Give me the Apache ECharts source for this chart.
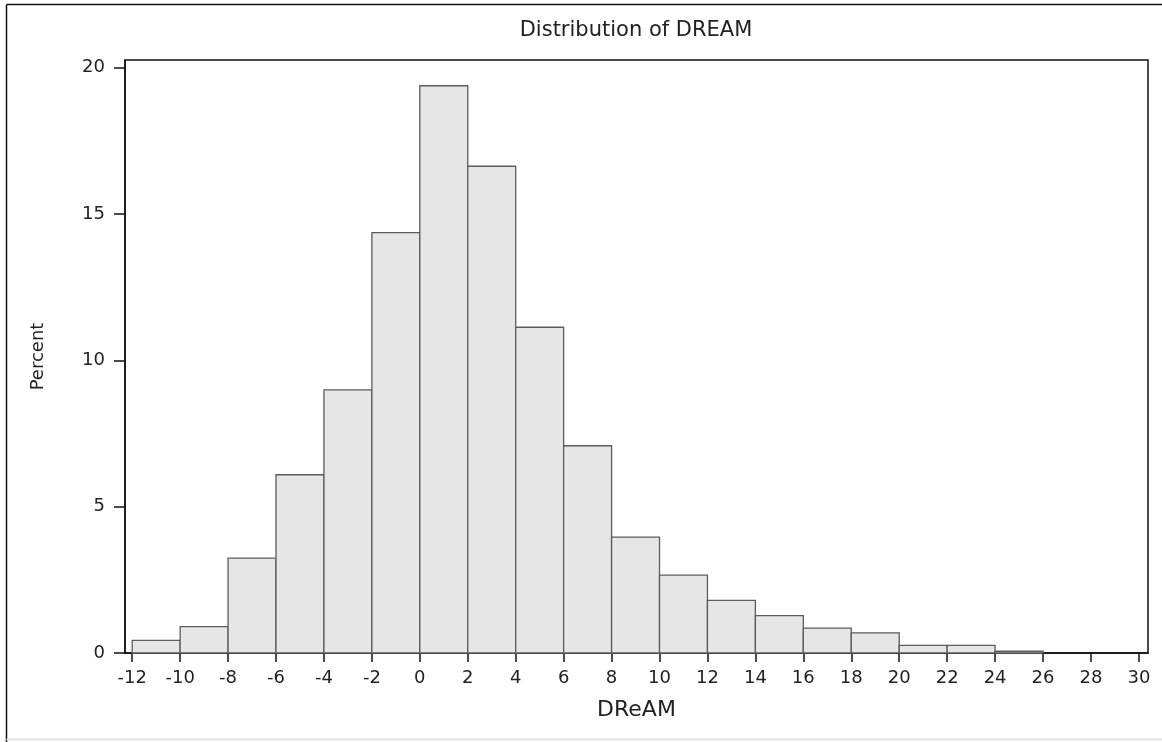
<!DOCTYPE html>
<html>
<head>
<meta charset="utf-8">
<style>
  html, body { margin: 0; padding: 0; background: #ffffff; }
  #chart { width: 1162px; height: 742px; }
</style>
<script src="https://cdn.jsdelivr.net/npm/echarts@6/dist/echarts.min.js"></script>
</head>
<body>
<div id="chart"></div>
<script>
// Histogram bins of DReAM (width 2), lower edges and percent of observations
const binStarts = [-12, -10, -8, -6, -4, -2, 0, 2, 4, 6, 8, 10, 12, 14, 16, 18, 20, 22, 24];
const binWidth = 2;
const percents = [0.43, 0.90, 3.24, 6.09, 8.99, 14.36, 19.38, 16.63, 11.13, 7.08, 3.96, 2.66, 1.80, 1.28, 0.85, 0.69, 0.26, 0.26, 0.06];

// Tick values shown on the axes
const xTicks = [-12, -10, -8, -6, -4, -2, 0, 2, 4, 6, 8, 10, 12, 14, 16, 18, 20, 22, 24, 26, 28, 30];
const yTicks = [0, 5, 10, 15, 20];

const FONT = '"DejaVu Sans", Verdana, sans-serif';
const INK = '#222222';

const chart = echarts.init(document.getElementById('chart'), null, { renderer: 'canvas' });

const data = binStarts.map((s, i) => [s, s + binWidth, percents[i]]);

chart.setOption({
  animation: false,
  backgroundColor: '#ffffff',
  title: {
    text: 'Distribution of DREAM',
    left: 636,
    top: 20,
    textAlign: 'center',
    padding: 0,
    textStyle: { fontFamily: FONT, fontSize: 21, fontWeight: 'normal', color: INK }
  },
  grid: {
    left: 125, top: 60, right: 14, bottom: 89,
    show: true, borderColor: '#111111', borderWidth: 1.5, backgroundColor: '#ffffff'
  },
  xAxis: {
    type: 'value',
    min: -12.3,
    max: 30.38,
    name: 'DReAM',
    nameLocation: 'middle',
    nameGap: 46,
    nameTextStyle: { fontFamily: FONT, fontSize: 22, color: INK },
    axisLine: { show: true, onZero: false, lineStyle: { color: '#111111', width: 1.5 } },
    axisTick: { show: true, length: 9, customValues: xTicks, lineStyle: { color: '#111111', width: 1.5 } },
    axisLabel: { customValues: xTicks, margin: 16, fontFamily: FONT, fontSize: 18, color: INK },
    splitLine: { show: false }
  },
  yAxis: {
    type: 'value',
    min: 0,
    max: 20.26,
    name: 'Percent',
    nameLocation: 'middle',
    nameGap: 78,
    nameRotate: 90,
    nameTextStyle: { fontFamily: FONT, fontSize: 18, color: INK },
    axisLine: { show: true, onZero: false, lineStyle: { color: '#111111', width: 1.5 } },
    axisTick: { show: true, length: 11, customValues: yTicks, lineStyle: { color: '#111111', width: 1.5 } },
    axisLabel: { customValues: yTicks, margin: 20, fontFamily: FONT, fontSize: 18, color: INK },
    splitLine: { show: false }
  },
  graphic: [
    { type: 'line', shape: { x1: 6.5, y1: 4.5, x2: 1162, y2: 4.5 }, style: { stroke: '#111111', lineWidth: 1.5 }, z: 100 },
    { type: 'line', shape: { x1: 6.5, y1: 4.5, x2: 6.5, y2: 742 }, style: { stroke: '#111111', lineWidth: 1.5 }, z: 100 },
    { type: 'line', shape: { x1: 6.5, y1: 739.5, x2: 1162, y2: 739.5 }, style: { stroke: '#e4e4e4', lineWidth: 2 }, z: 100 }
  ],
  series: [{
    type: 'custom',
    name: 'Percent',
    data: data,
    encode: { x: [0, 1], y: 2 },
    renderItem: function (params, api) {
      const p0 = api.coord([api.value(0), 0]);
      const p1 = api.coord([api.value(1), api.value(2)]);
      return {
        type: 'rect',
        shape: { x: p0[0], y: p1[1], width: p1[0] - p0[0], height: p0[1] - p1[1] },
        style: { fill: '#e6e6e6', stroke: '#5c5c5c', lineWidth: 1.3 }
      };
    }
  }]
});
</script>
</body>
</html>
